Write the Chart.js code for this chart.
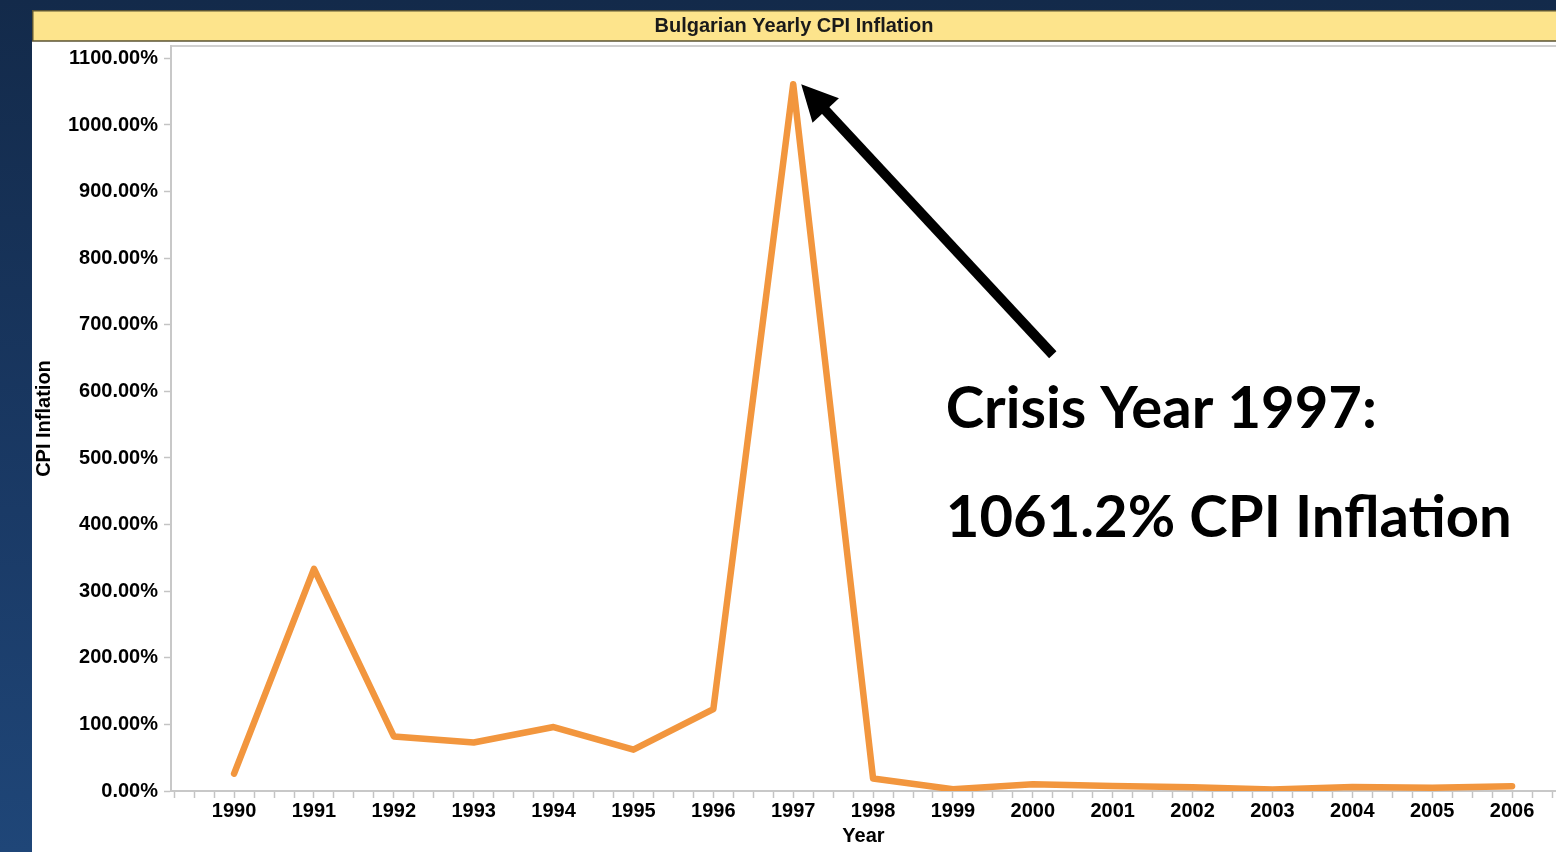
<!DOCTYPE html>
<html lang="en">
<head>
    <meta charset="UTF-8">
    <title>Bulgarian Yearly CPI Inflation</title>
    <script src="https://cdn.jsdelivr.net/npm/chart.js"></script>
    <style>
        html, body { margin: 0; padding: 0; }
        body {
            width: 1556px; height: 852px; overflow: hidden;
            background: linear-gradient(to bottom, #132a4a 0%, #1a3a66 60%, #1f4678 100%);
            position: relative;
        }
        #panel {
            position: absolute; left: 32px; top: 10px;
            width: 1524px; height: 842px; background: #fff;
        }
    </style>
</head>
<body>
    <div id="panel">
        <canvas id="cpiChart" width="1524" height="842"></canvas>
    </div>

    <script>
        // chart data
        const years = [1990, 1991, 1992, 1993, 1994, 1995, 1996, 1997, 1998,
                       1999, 2000, 2001, 2002, 2003, 2004, 2005, 2006];
        const cpiInflation = [26.0, 333.5, 82.0, 72.8, 96.0, 62.1, 123.0, 1061.2, 18.7,
                              2.6, 10.3, 7.4, 5.8, 2.3, 6.1, 5.0, 7.3];
        const yTickValues = [0, 100, 200, 300, 400, 500, 600, 700, 800, 900, 1000, 1100];
        const crisisYear = 1997;
        const noteLines = ['Crisis Year 1997:', '1061.2% CPI Inflation'];

        const labelFont = { family: "'Liberation Sans', Arial, sans-serif", size: 20, weight: 'bold' };

        // yellow title band behind the chart title
        const titleBand = {
            id: 'titleBand',
            beforeDraw(chart) {
                const ctx = chart.ctx;
                ctx.save();
                ctx.fillStyle = '#fde48c';
                ctx.fillRect(0, 0, chart.width, 31);
                ctx.strokeStyle = '#5b5434';
                ctx.lineWidth = 1.5;
                ctx.beginPath();
                ctx.moveTo(0, 0.75); ctx.lineTo(chart.width, 0.75);
                ctx.moveTo(0, 31); ctx.lineTo(chart.width, 31);
                ctx.moveTo(0.75, 0); ctx.lineTo(0.75, 31);
                ctx.stroke();
                // top border of plot area
                const a = chart.chartArea;
                ctx.strokeStyle = '#d0d0d0';
                ctx.lineWidth = 2;
                ctx.beginPath();
                ctx.moveTo(a.left, a.top); ctx.lineTo(chart.width, a.top);
                ctx.stroke();
                ctx.restore();
            }
        };

        // arrow + callout text for the 1997 spike
        const crisisNote = {
            id: 'crisisNote',
            afterDatasetsDraw(chart) {
                const ctx = chart.ctx;
                const xs = chart.scales.x, ys = chart.scales.y;
                const i = years.indexOf(crisisYear);
                const tipX = xs.getPixelForValue(crisisYear) + 8;
                const tipY = ys.getPixelForValue(cpiInflation[i]);
                const tailX = xs.getPixelForValue(2000.25);
                const tailY = ys.getPixelForValue(655);

                const ang = Math.atan2(tipY - tailY, tipX - tailX);
                const headLen = 36, headHalf = 18;
                const bx = tipX - headLen * Math.cos(ang);
                const by = tipY - headLen * Math.sin(ang);

                ctx.save();
                ctx.strokeStyle = '#000';
                ctx.fillStyle = '#000';
                ctx.lineWidth = 10;
                ctx.lineCap = 'butt';
                ctx.beginPath();
                ctx.moveTo(tailX, tailY);
                ctx.lineTo(bx + 2 * Math.cos(ang), by + 2 * Math.sin(ang));
                ctx.stroke();
                ctx.beginPath();
                ctx.moveTo(tipX, tipY);
                ctx.lineTo(bx + headHalf * Math.sin(ang), by - headHalf * Math.cos(ang));
                ctx.lineTo(bx - headHalf * Math.sin(ang), by + headHalf * Math.cos(ang));
                ctx.closePath();
                ctx.fill();

                // fit the callout to the width of the original slide text
                const fam = "Lato, 'Open Sans', sans-serif";
                ctx.font = 'bold 60px ' + fam;
                const w = ctx.measureText(noteLines[1]).width;
                const size = Math.round(60 * 564 / w);
                ctx.font = 'bold ' + size + 'px ' + fam;
                ctx.textAlign = 'left';
                ctx.textBaseline = 'alphabetic';
                const tx = xs.getPixelForValue(1998.91);
                ctx.fillText(noteLines[0], tx, ys.getPixelForValue(545));
                ctx.fillText(noteLines[1], tx, ys.getPixelForValue(381));
                ctx.restore();
            }
        };

        const ctx = document.getElementById('cpiChart').getContext('2d');
        new Chart(ctx, {
            type: 'line',
            data: {
                datasets: [{
                    label: 'CPI Inflation',
                    data: years.map((yr, i) => ({ x: yr, y: cpiInflation[i] })),
                    borderColor: '#f2963e',
                    borderWidth: 6.5,
                    borderCapStyle: 'round',
                    borderJoinStyle: 'round',
                    pointRadius: 0,
                    tension: 0,
                    fill: false
                }]
            },
            options: {
                responsive: false,
                animation: false,
                events: [],
                layout: { padding: 0 },
                plugins: {
                    legend: { display: false },
                    tooltip: { enabled: false },
                    title: {
                        display: true,
                        text: 'Bulgarian Yearly CPI Inflation',
                        color: '#1a1a1a',
                        font: labelFont,
                        padding: { top: 4, bottom: 8 }
                    }
                },
                scales: {
                    x: {
                        type: 'linear',
                        min: 1989.21,
                        max: 2006.55,
                        afterBuildTicks(axis) {
                            const t = [];
                            for (let v = 1989.25; v <= 2006.55; v += 0.25) t.push({ value: v });
                            axis.ticks = t;
                        },
                        afterFit(scale) { scale.height = 61; },
                        ticks: {
                            autoSkip: false,
                            maxRotation: 0,
                            padding: 1,
                            color: '#000',
                            font: labelFont,
                            callback: v => Number.isInteger(v) && years.includes(v) ? String(v) : ''
                        },
                        grid: {
                            drawOnChartArea: false,
                            tickLength: 7,
                            tickColor: '#c4c4c4',
                            tickWidth: 1.5
                        },
                        border: { color: '#c8c8c8', width: 2 },
                        title: {
                            display: true,
                            text: 'Year',
                            color: '#000',
                            font: labelFont,
                            padding: { top: 0, bottom: 4 }
                        }
                    },
                    y: {
                        min: 0,
                        max: 1118.6,
                        afterBuildTicks(axis) {
                            axis.ticks = yTickValues.map(v => ({ value: v }));
                        },
                        afterFit(scale) { scale.width = 139; },
                        ticks: {
                            padding: 6,
                            color: '#000',
                            font: labelFont,
                            callback: v => v.toFixed(2) + '%'
                        },
                        grid: {
                            drawOnChartArea: false,
                            tickLength: 7,
                            tickColor: '#c4c4c4',
                            tickWidth: 1.5
                        },
                        border: { color: '#c8c8c8', width: 2 },
                        title: {
                            display: true,
                            text: 'CPI Inflation',
                            color: '#000',
                            font: labelFont,
                            padding: { top: 0, bottom: 4 }
                        }
                    }
                }
            },
            plugins: [titleBand, crisisNote]
        });
    </script>
</body>
</html>
